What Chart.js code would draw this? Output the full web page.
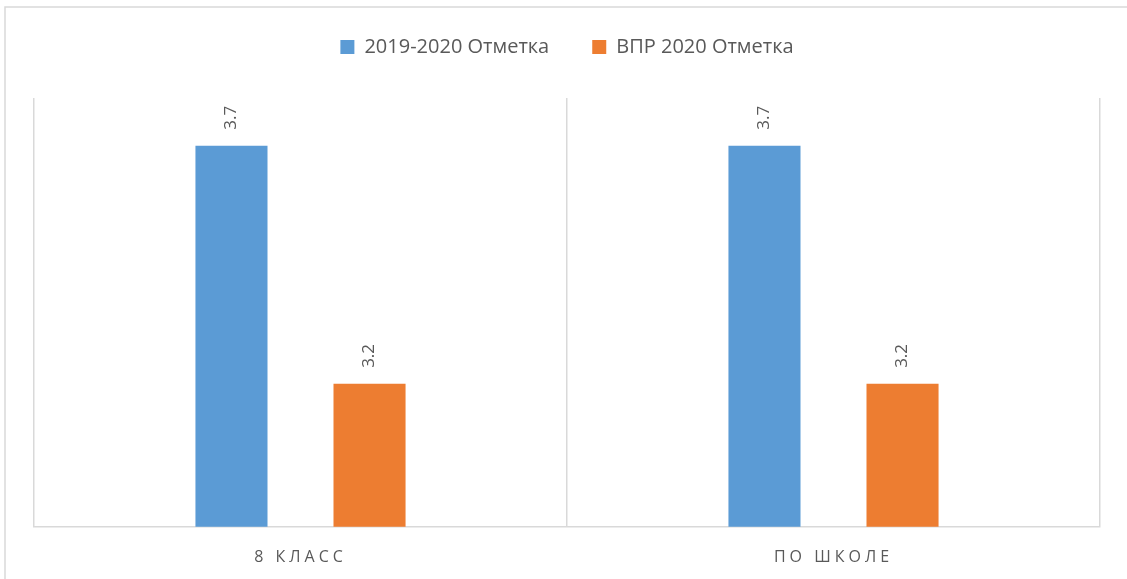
<!DOCTYPE html>
<html lang="ru">
<head>
    <meta charset="UTF-8">
    <title>ВПР 2020</title>
    <script src="https://cdn.jsdelivr.net/npm/chart.js@4.4.1/dist/chart.umd.min.js"></script>
    <style>
        body {
            margin: 0;
            background-color: #fff;
        }
        canvas {
            display: block;
        }
    </style>
</head>
<body>
    <canvas id="marksChart" width="1127" height="579"></canvas>

    <script>
        // data
        const categories = ["8 КЛАСС", "ПО ШКОЛЕ"];
        const yearMarks = [3.7, 3.7];   // 2019-2020 Отметка
        const vprMarks = [3.2, 3.2];    // ВПР 2020 Отметка
        const seriesNames = ["2019-2020 Отметка", "ВПР 2020 Отметка"];

        const textColor = "#595959";
        const lineColor = "#D9D9D9";

        // thin frame round the whole chart, as in the office export
        const framePlugin = {
            id: "frame",
            beforeDraw(chart) {
                const ctx = chart.ctx;
                ctx.save();
                ctx.strokeStyle = lineColor;
                ctx.lineWidth = 1.5;
                ctx.strokeRect(5, 7, chart.width + 50, chart.height + 50);
                ctx.restore();
            }
        };

        // push the plot area down below the legend
        const legendGap = {
            id: "legendGap",
            beforeInit(chart) {
                const fit = chart.legend.fit;
                chart.legend.fit = function () {
                    fit.bind(chart.legend)();
                    this.height += 31;
                };
            }
        };

        // spaced-out category labels
        const spacedTicks = {
            id: "spacedTicks",
            afterUpdate(chart) {
                const scale = chart.scales.x;
                if (scale._spaced) return;
                const draw = scale.drawLabels;
                scale.drawLabels = function (area) {
                    chart.ctx.letterSpacing = "4px";
                    draw.call(this, area);
                    chart.ctx.letterSpacing = "0px";
                };
                scale._spaced = true;
            }
        };

        // rotated value labels above each bar
        const valueLabels = {
            id: "valueLabels",
            afterDatasetsDraw(chart) {
                const ctx = chart.ctx;
                ctx.save();
                ctx.fillStyle = textColor;
                ctx.font = "17px 'Open Sans', sans-serif";
                ctx.textAlign = "left";
                ctx.textBaseline = "middle";
                chart.data.datasets.forEach((ds, i) => {
                    chart.getDatasetMeta(i).data.forEach((bar, j) => {
                        ctx.save();
                        ctx.translate(bar.x, bar.y - 16);
                        ctx.rotate(-Math.PI / 2);
                        ctx.fillText(ds.data[j].toFixed(1), 0, 0);
                        ctx.restore();
                    });
                });
                ctx.restore();
            }
        };

        new Chart(document.getElementById("marksChart"), {
            type: "bar",
            data: {
                labels: categories,
                datasets: [{
                    label: seriesNames[0],
                    data: yearMarks,
                    backgroundColor: "#5B9BD5",
                    categoryPercentage: 0.518,
                    barPercentage: 0.522
                }, {
                    label: seriesNames[1],
                    data: vprMarks,
                    backgroundColor: "#ED7D31",
                    categoryPercentage: 0.518,
                    barPercentage: 0.522
                }]
            },
            options: {
                responsive: false,
                animation: false,
                layout: {
                    padding: { left: 34, right: 27, top: -6, bottom: -9 }
                },
                plugins: {
                    legend: {
                        position: "top",
                        labels: {
                            boxWidth: 14,
                            boxHeight: 14,
                            padding: 43,
                            color: textColor,
                            font: { size: 20, family: "'Open Sans', sans-serif" }
                        }
                    },
                    tooltip: { enabled: false }
                },
                scales: {
                    x: {
                        grid: {
                            color: lineColor,
                            lineWidth: 1.5,
                            drawTicks: false
                        },
                        border: { color: lineColor, width: 1.5 },
                        ticks: {
                            color: textColor,
                            padding: 21,
                            font: { size: 16, family: "'Open Sans', sans-serif" }
                        }
                    },
                    y: {
                        display: false,
                        min: 2.9,
                        max: 3.8
                    }
                }
            },
            plugins: [framePlugin, legendGap, spacedTicks, valueLabels]
        });
    </script>
</body>
</html>
